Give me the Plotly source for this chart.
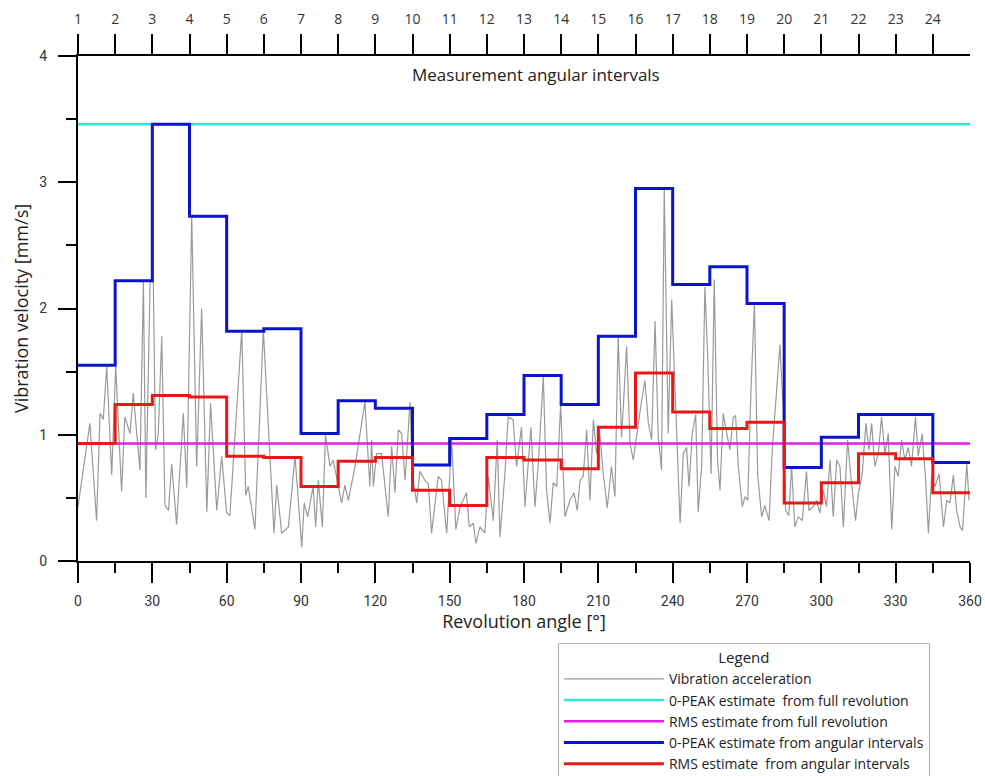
import plotly.graph_objects as go

# ---------------- data ----------------
interval_edges = [0, 15, 30, 45, 60, 75, 90, 105, 120, 135, 150, 165, 180,
                  195, 210, 225, 240, 255, 270, 285, 300, 315, 330, 345, 360]
interval_labels = [str(i) for i in range(1, 25)]

peak_intervals = [1.55, 2.22, 3.46, 2.73, 1.82, 1.84, 1.01, 1.27, 1.21, 0.76, 0.97, 1.16,
                  1.47, 1.24, 1.78, 2.95, 2.19, 2.33, 2.04, 0.74, 0.98, 1.16, 1.16, 0.78]
rms_intervals = [0.93, 1.24, 1.31, 1.30, 0.83, 0.82, 0.59, 0.79, 0.82, 0.56, 0.44, 0.82,
                 0.80, 0.73, 1.06, 1.49, 1.18, 1.05, 1.10, 0.46, 0.62, 0.85, 0.81, 0.54]

peak_full = 3.46
rms_full = 0.93

signal_angle = [0, 4.8, 7.5, 8.9, 10.2, 11.6, 13.6, 15.2, 17.6, 18.9, 21.0, 22.3, 25.0, 26.4,
                27.4, 29.1, 30.4, 31.3, 32.4, 33.8, 35.1, 36.5, 37.8, 39.8, 42.5, 43.9, 45.9,
                47.9, 49.9, 52.0, 53.5, 56.0, 58.0, 60.0, 61.3, 66.1, 67.7, 68.7, 71.4, 74.8,
                79.1, 80.2, 82.2, 84.9, 87.6, 90.3, 91.3, 92.7, 94.9, 95.9, 97.0, 98.6, 99.9,
                101.7, 103.0, 106.4, 107.7, 109.1, 111.8, 115.8, 117.8, 118.5, 119.2, 120.5,
                122.5, 125.2, 126.6, 127.9, 129.3, 130.6, 132.0, 134.0, 135.0, 136.7, 138.0,
                140.0, 141.4, 142.7, 145.4, 146.7, 148.8, 150.8, 152.5, 154.2, 156.8, 157.9,
                159.5, 160.6, 162.2, 164.2, 165.6, 167.6, 169.2, 170.3, 172.3, 173.6, 175.6,
                177.0, 179.0, 180.4, 182.8, 184.4, 185.7, 187.8, 189.1, 190.5, 191.8, 193.2,
                194.8, 196.5, 198.5, 200.2, 201.5, 202.6, 203.9, 205.3, 206.6, 208.0, 209.3,
                210.6, 212.0, 213.6, 215.3, 216.7, 218.0, 219.4, 221.4, 222.8, 224.1, 225.5,
                227.1, 228.8, 230.2, 231.5, 232.9, 234.2, 235.5, 236.6, 238.2, 239.6, 241.6,
                243.0, 244.3, 245.6, 246.6, 247.9, 249.3, 250.3, 251.7, 253.0, 254.1, 255.5,
                256.8, 258.1, 259.1, 260.4, 261.8, 263.1, 264.5, 265.4, 266.5, 268.1, 269.2,
                270.3, 271.6, 273.0, 274.3, 275.9, 277.2, 278.9, 280.2, 282.0, 283.3, 284.6,
                285.6, 286.9, 288.0, 289.3, 290.7, 292.3, 294.0, 295.0, 296.7, 298.1, 299.4,
                300.8, 302.1, 303.5, 304.8, 306.2, 307.5, 308.9, 310.6, 311.9, 313.8, 314.9,
                316.5, 318.0, 319.2, 320.3, 321.6, 323.0, 324.3, 325.7, 327.0, 328.4, 329.7,
                331.0, 332.4, 333.7, 335.1, 336.4, 338.0, 339.1, 340.7, 342.1, 343.2, 344.5,
                345.9, 347.5, 349.3, 350.6, 351.9, 353.3, 354.6, 356.0, 357.0, 358.7, 359.6]
signal_value = [0.43, 1.09, 0.32, 1.17, 1.12, 1.54, 0.68, 1.54, 0.55, 1.14, 1.01, 1.33, 0.72, 2.21,
                0.50, 2.21, 2.21, 0.88, 1.01, 1.78, 0.44, 0.40, 0.77, 0.29, 1.17, 0.58, 2.73,
                0.75, 2.00, 0.39, 1.25, 0.40, 0.83, 0.38, 0.36, 1.83, 0.52, 0.59, 0.25, 1.83,
                0.22, 0.60, 0.22, 0.27, 0.83, 0.11, 0.46, 0.35, 0.59, 0.27, 0.64, 0.27, 1.00,
                0.75, 0.80, 0.46, 0.60, 0.48, 0.75, 1.26, 0.59, 0.96, 0.59, 0.85,
                0.85, 0.35, 0.91, 0.54, 1.04, 1.01, 0.64, 1.26, 0.67, 0.46, 0.71,
                0.64, 0.61, 0.22, 0.67, 0.64, 0.22, 0.96, 0.25, 0.43, 0.54, 0.27,
                0.30, 0.14, 0.27, 0.22, 0.67, 0.32, 0.96, 0.19, 0.69, 1.14, 1.12,
                0.75, 1.06, 0.43, 1.06, 0.43, 0.75, 1.46, 0.56, 0.30, 0.62, 0.59,
                1.24, 0.35, 0.48, 0.54, 0.40, 0.64, 0.67, 1.04, 0.48, 1.12, 0.85,
                1.01, 0.69, 0.42, 0.75, 0.51, 1.78, 0.98, 1.70, 0.93, 0.80, 1.01,
                1.22, 1.43, 1.09, 0.96, 1.90, 0.98, 0.72, 2.94, 1.01, 2.07, 0.96,
                0.30, 0.85, 0.90, 0.59, 1.01, 1.16, 0.39, 0.75, 2.17, 1.64, 0.69,
                2.23, 0.80, 0.56, 1.17, 1.01, 0.88, 1.14, 1.15, 0.75, 0.43, 0.51,
                0.48, 1.35, 2.04, 0.69, 0.35, 0.44, 0.32, 0.88, 1.35, 1.71, 1.20,
                0.40, 0.36, 0.75, 0.27, 0.35, 0.32, 0.71, 0.40, 0.43, 0.48, 0.38,
                0.56, 0.43, 0.80, 0.35, 0.80, 0.75, 0.27, 0.96, 0.67, 0.32, 0.53,
                0.69, 1.09, 0.88, 1.09, 0.75, 0.85, 1.14, 0.85, 1.01, 0.25, 0.75,
                0.67, 0.96, 0.80, 0.90, 0.75, 1.14, 0.83, 1.01, 0.64, 0.22, 0.67,
                0.59, 0.69, 0.27, 0.48, 0.46, 0.68, 0.40, 0.27, 0.24, 0.77, 0.48]

x_ticks = list(range(0, 361, 30))
y_ticks = [0, 1, 2, 3, 4]

# ---------------- figure ----------------
FONT = "Open Sans, Liberation Sans, sans-serif"
NARROW = "Liberation Sans Narrow, Roboto, Open Sans, sans-serif"

fig = go.Figure()

fig.add_trace(go.Scatter(
    x=signal_angle, y=signal_value, mode="lines",
    line=dict(color="#9a9a9a", width=1.2),
    name="Vibration acceleration"))

fig.add_trace(go.Scatter(
    x=[interval_edges[0], interval_edges[-1]], y=[peak_full, peak_full], mode="lines",
    line=dict(color="#2ee6e6", width=2.5),
    name="0-PEAK estimate \u00a0from full revolution"))

fig.add_trace(go.Scatter(
    x=[interval_edges[0], interval_edges[-1]], y=[rms_full, rms_full], mode="lines",
    line=dict(color="#e020e0", width=2.5),
    name="RMS estimate from full revolution"))

fig.add_trace(go.Scatter(
    x=interval_edges, y=peak_intervals + [peak_intervals[-1]], mode="lines",
    line=dict(color="#0a14c8", width=3, shape="hv"),
    name="0-PEAK estimate from angular intervals"))

fig.add_trace(go.Scatter(
    x=interval_edges, y=rms_intervals + [rms_intervals[-1]], mode="lines",
    line=dict(color="#e81818", width=3, shape="hv"),
    name="RMS estimate \u00a0from angular intervals"))

# invisible trace to carry the top axis
fig.add_trace(go.Scatter(
    x=[interval_edges[0], interval_edges[-1]], y=[None, None], xaxis="x2",
    mode="lines", showlegend=False, hoverinfo="skip"))

fig.update_layout(
    width=985, height=776,
    margin=dict(l=78, r=15, t=56, b=215, autoexpand=False),
    paper_bgcolor="white", plot_bgcolor="white",
    font=dict(family=FONT, color="#222222"),
    showlegend=True,
    legend=dict(
        x=0.538, y=-0.162, xanchor="left", yanchor="top",
        bgcolor="white", bordercolor="#b0b0b0", borderwidth=1,
        font=dict(size=14, family=FONT, color="#222222"),
        title=dict(text="Legend", side="top center", font=dict(size=15, family=FONT)),
        itemwidth=100, tracegroupgap=0,
    ),
    xaxis=dict(
        range=[0, 360], tickmode="array", tickvals=x_ticks,
        ticks="outside", ticklen=20, tickwidth=1.5, tickcolor="black",
        minor=dict(dtick=15, tick0=0, ticks="outside", ticklen=10, tickwidth=1.5, tickcolor="black"),
        showline=True, linecolor="black", linewidth=2,
        showgrid=False, zeroline=False, automargin=False,
        tickfont=dict(size=14, family=NARROW, color="#333333"),
        ticklabelstandoff=6, ticklabeloverflow="allow",
        title=dict(text="Revolution angle [°]", font=dict(size=18, family=FONT, color="#222222"),
                   standoff=0),
    ),
    xaxis2=dict(
        range=[0, 360], overlaying="x", side="top", anchor="y",
        tickmode="array", tickvals=interval_edges[:-1], ticktext=interval_labels,
        ticks="outside", ticklen=20, tickwidth=1.5, tickcolor="black",
        showline=True, linecolor="black", linewidth=2,
        showgrid=False, zeroline=False, automargin=False,
        tickfont=dict(size=14, family=FONT, color="#333333"),
        ticklabelstandoff=4,
    ),
    yaxis=dict(
        range=[0, 4], tickmode="array", tickvals=y_ticks,
        ticks="outside", ticklen=18, tickwidth=1.5, tickcolor="black",
        minor=dict(dtick=0.5, tick0=0, ticks="outside", ticklen=10, tickwidth=1.5, tickcolor="black"),
        showline=True, linecolor="black", linewidth=2,
        showgrid=False, zeroline=False,
        tickfont=dict(size=14, family=NARROW, color="#333333"),
        ticklabelstandoff=8,
        title=dict(text="Vibration velocity [mm/s]", font=dict(size=18, family=FONT, color="#222222"),
                   standoff=6),
    ),
    annotations=[dict(
        text="Measurement angular intervals", xref="x", yref="paper",
        x=185, y=0.964, xanchor="center", yanchor="middle", showarrow=False,
        font=dict(size=17, family=FONT, color="#222222"))],
)

fig.write_html("out.html", config={"displayModeBar": False},
               post_script="document.body.style.margin='0';")
